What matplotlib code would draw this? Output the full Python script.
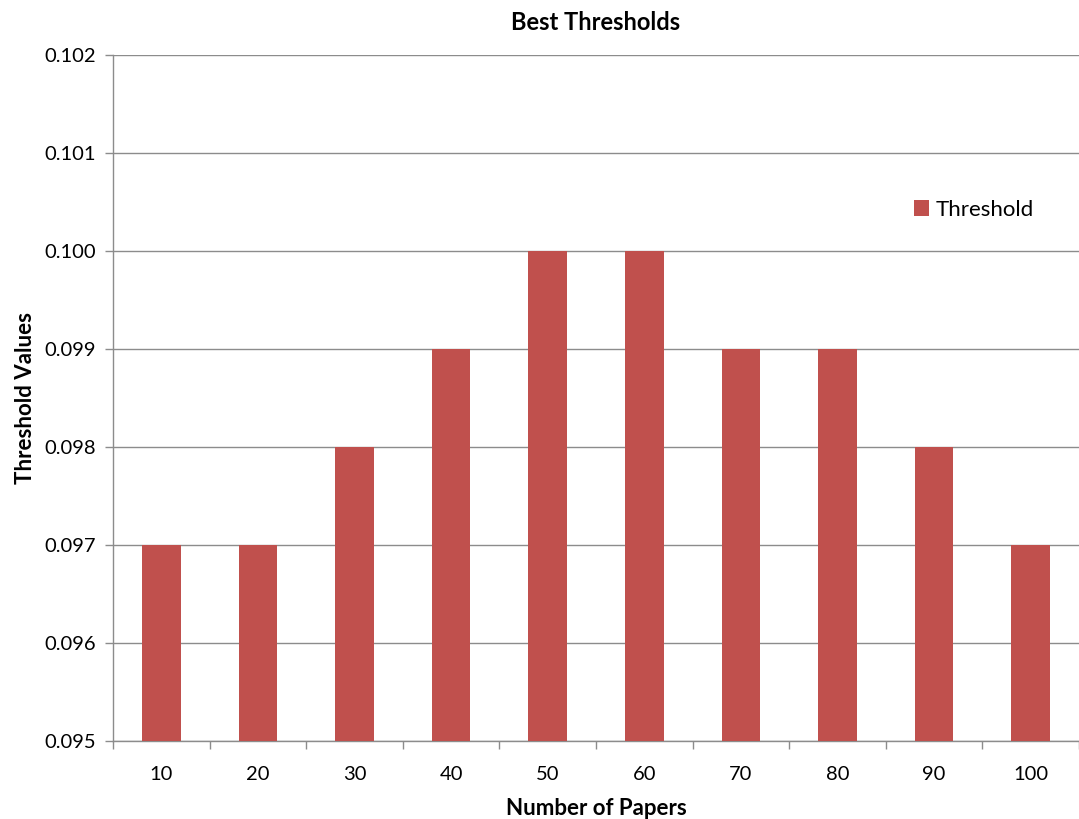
import numpy as np
import matplotlib.pyplot as plt
from matplotlib.ticker import FixedLocator, NullFormatter

# data
papers = ["10", "20", "30", "40", "50", "60", "70", "80", "90", "100"]
thresholds = [0.097, 0.097, 0.098, 0.099, 0.100, 0.100, 0.099, 0.099, 0.098, 0.097]
y_ticks = [0.095, 0.096, 0.097, 0.098, 0.099, 0.100, 0.101, 0.102]

bar_color = "#C0504D"
grid_color = "#8C8C8C"

plt.rcParams["font.family"] = ["Lato", "DejaVu Sans"]

fig = plt.figure(figsize=(10.79, 8.19), dpi=100)
ax = fig.add_axes([113 / 1079, 1 - 741 / 819, 1 - 113 / 1079, (741 - 55) / 819])

x = np.arange(len(papers))
ax.bar(x, thresholds, width=0.4, color=bar_color, label="Threshold", zorder=3)

ax.set_xlim(-0.5, len(papers) - 0.5)
ax.set_ylim(0.095, 0.102)
ax.set_yticks(y_ticks)
ax.set_yticklabels([f"{v:.3f}" for v in y_ticks])
ax.yaxis.grid(True, color=grid_color, linewidth=1.0, zorder=0)

# category labels centered, ticks between categories
ax.set_xticks(x)
ax.set_xticklabels(papers)
ax.tick_params(axis="x", which="major", length=0, pad=18, labelsize=14.5)
ax.xaxis.set_minor_locator(FixedLocator(np.arange(-0.5, len(papers), 1.0)))
ax.xaxis.set_minor_formatter(NullFormatter())
ax.tick_params(axis="x", which="minor", length=6, color=grid_color, width=1.0)
ax.tick_params(axis="y", length=6, color=grid_color, width=1.0, labelsize=14.5, pad=6)

for side in ["top", "right"]:
    ax.spines[side].set_visible(False)
for side in ["left", "bottom"]:
    ax.spines[side].set_color(grid_color)
    ax.spines[side].set_linewidth(1.0)

ax.set_title("Best Thresholds", fontsize=17, fontweight="bold", pad=18)
ax.set_xlabel("Number of Papers", fontsize=16, fontweight="bold", labelpad=11)
ax.set_ylabel("Threshold Values", fontsize=16, fontweight="bold", labelpad=6)

ax.legend(loc="upper left", bbox_to_anchor=(0.808, 0.818), frameon=False,
          fontsize=16, handlelength=0.7, handleheight=0.7, handletextpad=0.3)

fig.savefig("out.png", dpi=100)
